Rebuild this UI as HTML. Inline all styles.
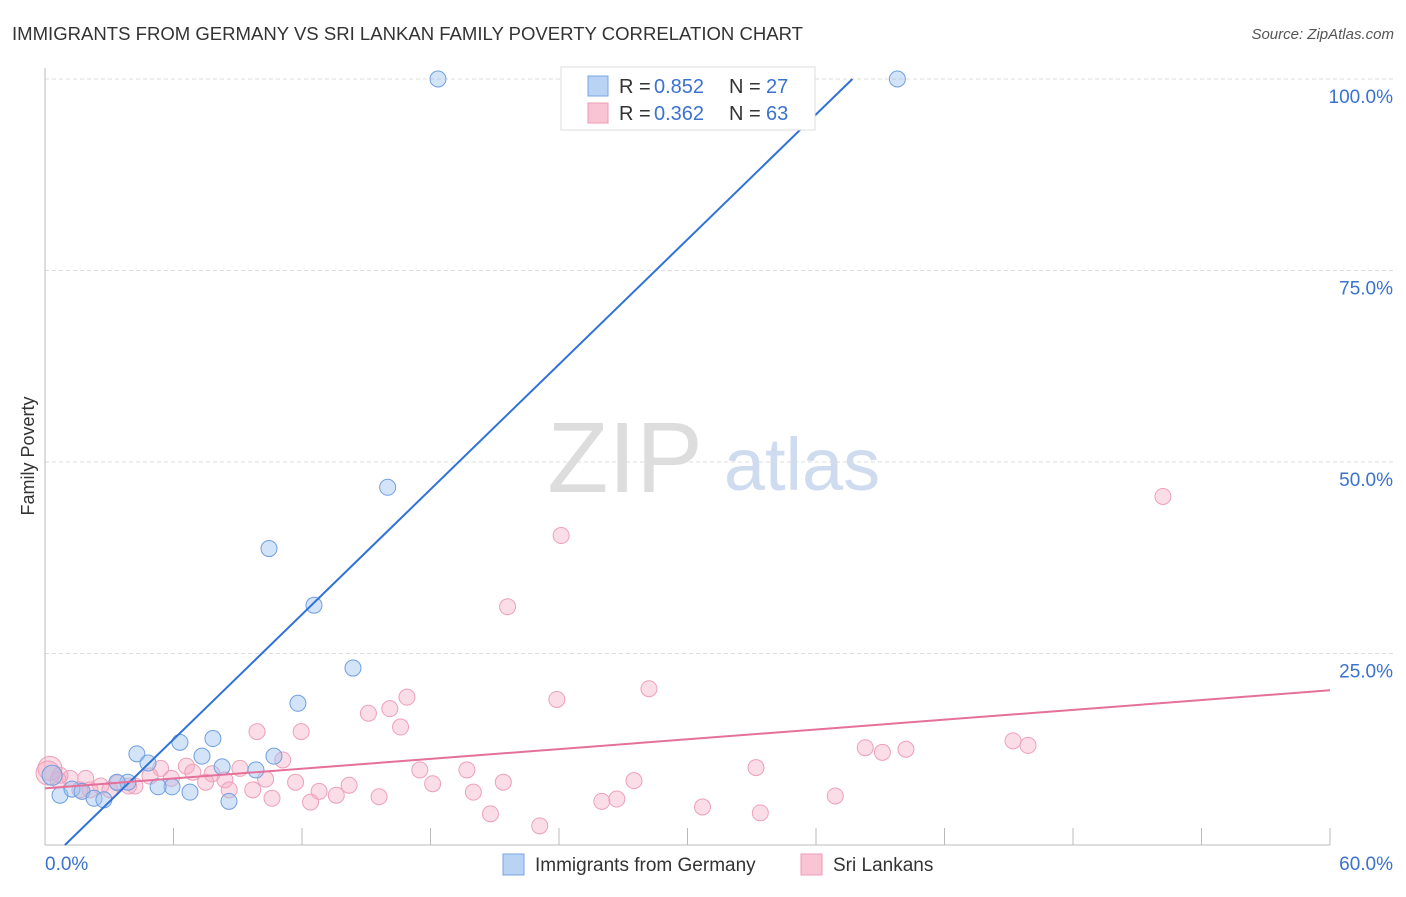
<!DOCTYPE html>
<html><head><meta charset="utf-8">
<style>
body{margin:0;background:#fff;font-family:"Liberation Sans",sans-serif;}
svg text{font-family:"Liberation Sans",sans-serif;}
</style></head>
<body>
<svg id="chart" width="1406" height="892">
<text x="12" y="40" font-size="18" fill="#333" textLength="791" lengthAdjust="spacingAndGlyphs">IMMIGRANTS FROM GERMANY VS SRI LANKAN FAMILY POVERTY CORRELATION CHART</text>
<text x="1394" y="39" font-size="15" fill="#555" font-style="italic" text-anchor="end">Source: ZipAtlas.com</text>
<text x="34" y="456" font-size="18" fill="#333" text-anchor="middle" transform="rotate(-90 34 456)">Family Poverty</text>
<g>
<text x="625" y="492" font-size="100" fill="#ddd" font-family="Liberation Serif" text-anchor="middle">ZIP</text>
<text x="802" y="490" font-size="74" fill="#cfdcf0" text-anchor="middle">atlas</text>
</g>
<g id="grid"></g><g id="axes"></g><g id="pts"></g><g id="lines"></g>
<g>
<rect x="561" y="67" width="254" height="63" fill="#fff" stroke="#ddd"/>
<rect x="588" y="76" width="20" height="20" fill="#b9d3f5" stroke="#7aa6e0"/>
<rect x="588" y="103" width="20" height="20" fill="#f9c5d5" stroke="#ec9ab5"/>
<text x="619" y="93" font-size="20" fill="#333">R =</text>
<text x="654" y="93" font-size="20" fill="#3a72d0">0.852</text>
<text x="729" y="93" font-size="20" fill="#333">N =</text>
<text x="766" y="93" font-size="20" fill="#3a72d0">27</text>
<text x="619" y="120" font-size="20" fill="#333">R =</text>
<text x="654" y="120" font-size="20" fill="#3a72d0">0.362</text>
<text x="729" y="120" font-size="20" fill="#333">N =</text>
<text x="766" y="120" font-size="20" fill="#3a72d0">63</text>
</g>
<g>
<rect x="503" y="854" width="21" height="21" fill="#b9d3f5" stroke="#7aa6e0"/>
<text x="535" y="871" font-size="19" fill="#333">Immigrants from Germany</text>
<rect x="801" y="854" width="21" height="21" fill="#f9c5d5" stroke="#ec9ab5"/>
<text x="833" y="871" font-size="19" fill="#333">Sri Lankans</text>
</g>
</svg>
<script>
const yTicks=[25,50,75,100];
const yTickLabels=["25.0%","50.0%","75.0%","100.0%"];
const xTickVals=[0,6,12,18,24,30,36,42,48,54,60];
const xEndLabels=["0.0%","60.0%"];
const blueX=[18.35,39.8,16.0,10.46,12.56,14.38,11.81,6.30,7.84,4.29,4.81,7.33,8.27,10.69,9.85,5.93,5.28,3.87,3.36,0.70,1.26,1.73,2.29,2.75,6.77,8.59,0.33];
const blueY=[100,100,46.7,38.7,31.3,23.1,18.5,13.4,13.9,11.9,10.7,11.6,10.2,11.6,9.8,7.6,7.6,8.2,8.2,6.5,7.3,7.0,6.1,5.9,6.9,5.7,9.1];
const pinkX=[52.2,24.1,21.6,28.2,23.9,16.9,16.1,15.1,16.6,11.96,9.9,11.1,45.2,45.9,38.3,39.1,40.2,33.2,27.5,19.7,17.5,21.4,20.0,18.1,14.2,12.8,11.7,13.6,15.6,12.4,10.6,9.1,8.4,8.6,9.7,10.3,7.8,7.5,6.6,6.9,5.9,5.4,4.9,4.2,3.9,3.4,2.6,2.1,1.9,1.17,0.70,0.23,0.14,0.61,36.9,26.7,26.0,30.7,33.4,20.8,23.1,1.63,3.03];
const pinkY=[45.5,40.4,31.1,20.4,19.0,19.3,17.8,17.2,15.4,14.8,14.8,11.1,13.6,13.0,12.7,12.1,12.5,10.1,8.4,9.8,9.8,8.2,6.9,8.0,7.8,7.0,8.2,6.5,6.3,5.6,6.1,10.0,8.5,7.2,7.2,8.6,9.3,8.2,10.3,9.5,8.7,10.0,9.0,7.7,7.7,8.1,7.7,7.2,8.7,8.7,9.1,10.0,9.4,8.5,6.4,6.0,5.7,4.96,4.2,4.07,2.5,7.2,7.2];
const blueLine=[[0.93,0],[37.7,100]];
const pinkLine=[[0,7.4],[60,20.2]];
const X=v=>45+v/60*1285, Y=v=>845-v/100*766;
const NS="http://www.w3.org/2000/svg";
function mk(p,t,a){const e=document.createElementNS(NS,t);for(const k in a)e.setAttribute(k,a[k]);p.appendChild(e);return e;}
const grid=document.getElementById('grid'),axes=document.getElementById('axes'),pts=document.getElementById('pts'),lines=document.getElementById('lines');
yTicks.forEach((t,i)=>{
 const l=mk(grid,'line',{x1:45,x2:1394,y1:Y(t),y2:Y(t),stroke:'#ddd','stroke-dasharray':'4,3'});
 
 
 const tx=mk(axes,'text',{x:1393,y:Y(t)+24,'font-size':19,fill:'#3a72d0','text-anchor':'end'});
 tx.textContent=yTickLabels[i];
 
 
});
const ax=mk(axes,'line',{x1:45,x2:1330,y1:845,y2:845,stroke:'#bbb'});


const ay=mk(axes,'line',{x1:45,x2:45,y1:68,y2:845,stroke:'#bbb'});


xTickVals.forEach(v=>{
 const t=mk(axes,'line',{x1:X(v),x2:X(v),y1:828,y2:845,stroke:'#bbb'});
 
 
});
const xl0=mk(axes,'text',{x:45,y:870,'font-size':19,fill:'#3a72d0'});xl0.textContent=xEndLabels[0];


const xl1=mk(axes,'text',{x:1393,y:870,'font-size':19,fill:'#3a72d0','text-anchor':'end'});xl1.textContent=xEndLabels[1];


pinkX.forEach((v,i)=>{
 const r=(v<0.3)?12:8;
 const c=mk(pts,'circle',{cx:X(v),cy:Y(pinkY[i]),r:r,fill:'rgba(246,170,195,0.4)',stroke:'#eea0b8','stroke-width':1});
 
 
});
blueX.forEach((v,i)=>{
 const r=(v<0.5)?10:8;
 const c=mk(pts,'circle',{cx:X(v),cy:Y(blueY[i]),r:r,fill:'rgba(160,195,240,0.45)',stroke:'#6f9fe0','stroke-width':1});
 
 
});
const bl=mk(lines,'line',{x1:X(blueLine[0][0]),y1:Y(blueLine[0][1]),x2:X(blueLine[1][0]),y2:Y(blueLine[1][1]),stroke:'#2f72d8','stroke-width':2});


const pl=mk(lines,'line',{x1:X(pinkLine[0][0]),y1:Y(pinkLine[0][1]),x2:X(pinkLine[1][0]),y2:Y(pinkLine[1][1]),stroke:'#e5709a','stroke-width':2});


</script>
</body></html>
